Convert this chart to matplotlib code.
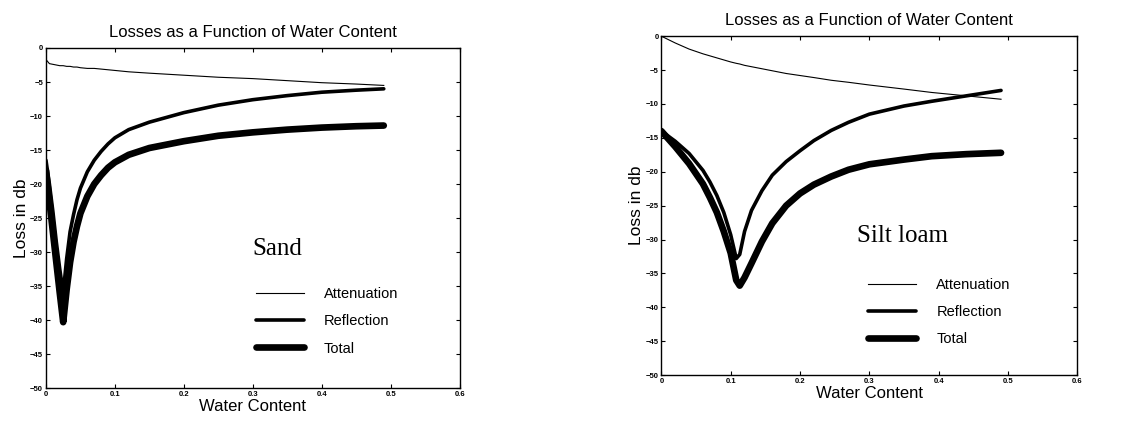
import matplotlib
matplotlib.use('Agg')
import matplotlib.pyplot as plt

plt.rcParams['font.family'] = ['Liberation Sans', 'DejaVu Sans']

# Sand panel
sand_x = [0.0, 0.005, 0.01, 0.015, 0.02, 0.025, 0.03, 0.035, 0.04, 0.045, 0.05, 0.06, 0.07, 0.08, 0.09, 0.1,
          0.12, 0.15, 0.2, 0.25, 0.3, 0.35, 0.4, 0.45, 0.49]
sand_att = [-1.7, -2.3, -2.4, -2.5, -2.6, -2.6, -2.7, -2.7, -2.8, -2.8, -2.9, -3.0, -3.0, -3.1, -3.2, -3.3,
            -3.5, -3.7, -4.0, -4.3, -4.5, -4.8, -5.1, -5.3, -5.5]
sand_refl = [-16.5, -20.0, -24.0, -28.5, -32.5, -36.0, -31.0, -27.0, -24.5, -22.3, -20.6, -18.2, -16.5, -15.2, -14.1, -13.2,
             -12.0, -10.9, -9.5, -8.4, -7.6, -7.0, -6.5, -6.2, -6.0]
sand_tot = [-18.0, -22.5, -27.0, -31.5, -36.0, -40.3, -35.5, -31.5, -28.5, -26.2, -24.3, -21.8, -20.0, -18.7, -17.6, -16.8,
            -15.7, -14.7, -13.7, -12.9, -12.4, -12.0, -11.7, -11.5, -11.4]

# Silt loam panel
silt_x = [0.0, 0.02, 0.04, 0.06, 0.07, 0.08, 0.09, 0.1, 0.108, 0.113, 0.12, 0.13, 0.145, 0.16, 0.18, 0.2,
          0.22, 0.245, 0.27, 0.3, 0.35, 0.39, 0.44, 0.49]
silt_att = [0.0, -1.0, -1.9, -2.6, -2.9, -3.2, -3.5, -3.8, -4.0, -4.1, -4.3, -4.5, -4.8, -5.1, -5.5, -5.8,
            -6.1, -6.5, -6.8, -7.2, -7.8, -8.3, -8.8, -9.3]
silt_refl = [-14.0, -15.5, -17.3, -19.8, -21.5, -23.5, -26.0, -29.3, -32.8, -32.2, -28.8, -25.7, -22.8, -20.5, -18.5, -16.9,
             -15.4, -13.9, -12.7, -11.5, -10.3, -9.6, -8.8, -8.0]
silt_tot = [-14.0, -16.3, -18.8, -21.8, -23.8, -26.0, -28.8, -32.0, -36.0, -36.8, -35.6, -33.5, -30.3, -27.6, -25.0, -23.2,
            -21.9, -20.7, -19.7, -18.9, -18.2, -17.7, -17.4, -17.2]

x_ticks = [0, 0.1, 0.2, 0.3, 0.4, 0.5, 0.6]
y_ticks = [0, -5, -10, -15, -20, -25, -30, -35, -40, -45, -50]

fig = plt.figure(figsize=(11.21, 4.21), dpi=100)
ax1 = fig.add_axes([0.041, 0.078, 0.369, 0.808])
ax2 = fig.add_axes([0.590, 0.109, 0.371, 0.805])

panels = [
    (ax1, sand_x, sand_att, sand_refl, sand_tot, 'Sand', (0.50, 0.41), (0.475, 0.335)),
    (ax2, silt_x, silt_att, silt_refl, silt_tot, 'Silt loam', (0.47, 0.41), (0.465, 0.325)),
]

for ax, x, att, refl, tot, name, name_pos, leg_pos in panels:
    ax.plot(x, att, color='black', lw=0.8, label='Attenuation')
    ax.plot(x, refl, color='black', lw=2.6, solid_capstyle='round', solid_joinstyle='round', label='Reflection')
    ax.plot(x, tot, color='black', lw=4.8, solid_capstyle='round', solid_joinstyle='round', label='Total')

    ax.set_xlim(0, 0.6)
    ax.set_ylim(-50, 0)
    ax.set_xticks(x_ticks)
    ax.set_xticklabels(['0', '0.1', '0.2', '0.3', '0.4', '0.5', '0.6'])
    ax.set_yticks(y_ticks)
    ax.tick_params(direction='in', top=True, right=True, labelsize=5.5, length=3, width=0.8, pad=2)
    for lbl in ax.get_xticklabels() + ax.get_yticklabels():
        lbl.set_fontweight('bold')
    for sp in ax.spines.values():
        sp.set_linewidth(1.0)

    ax.set_title('Losses as a Function of Water Content', fontsize=12, pad=8)
    ax.set_xlabel('Water Content', fontsize=12, labelpad=1)
    ax.set_ylabel('Loss in db', fontsize=12.5, labelpad=1)

    ax.text(name_pos[0], name_pos[1], name, transform=ax.transAxes,
            fontsize=18, family='Liberation Serif', va='center', ha='left')

    ax.legend(loc='upper left', bbox_to_anchor=leg_pos, frameon=False,
              fontsize=10.5, handlelength=3.3, handletextpad=1.4, labelspacing=0.9)

fig.savefig('out.png', dpi=100)
